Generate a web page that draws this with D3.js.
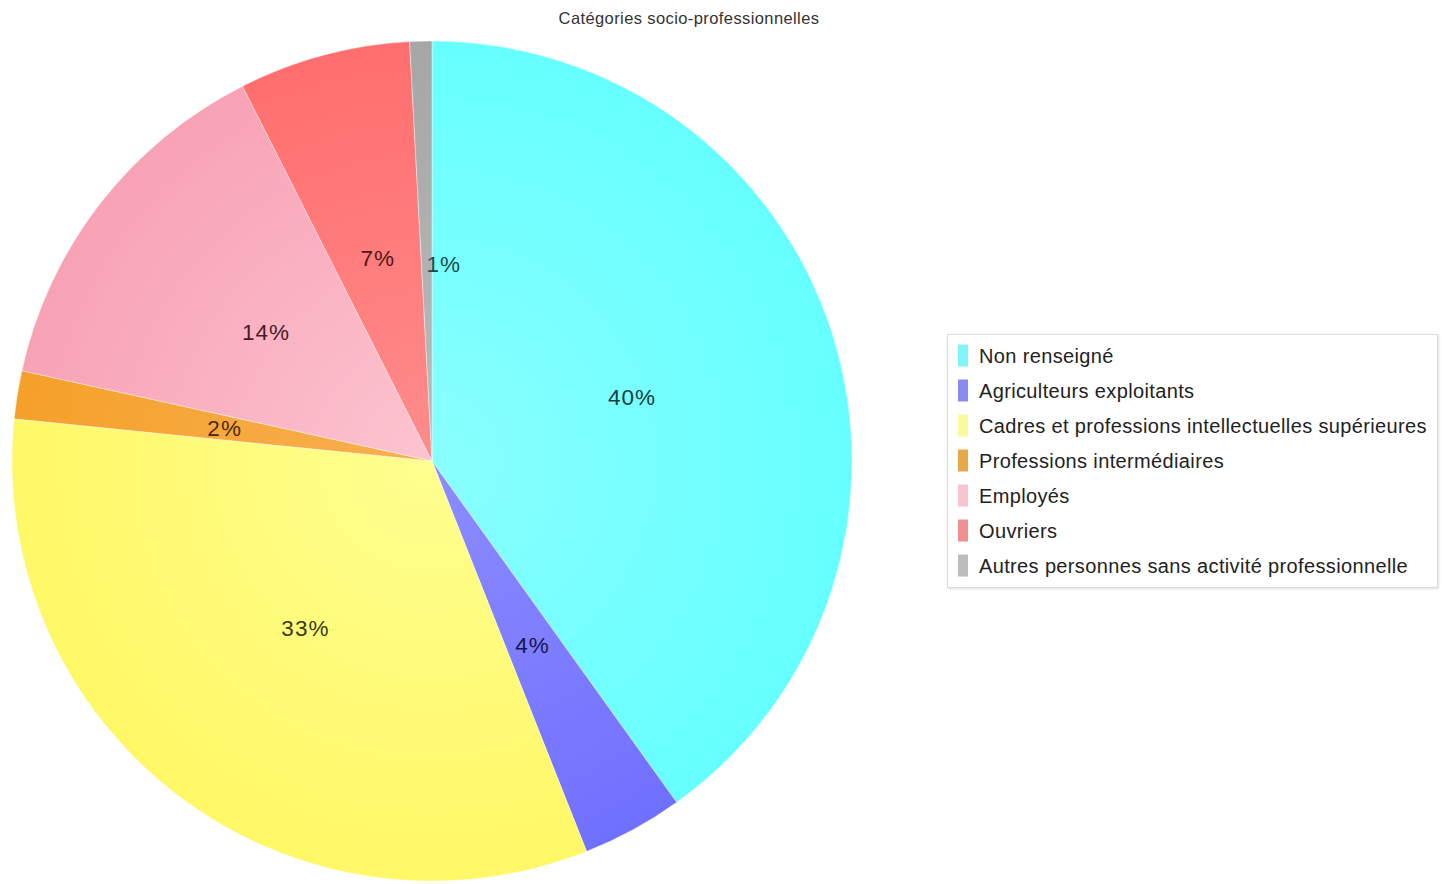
<!DOCTYPE html>
<html><head><meta charset="utf-8">
<script src="https://cdn.jsdelivr.net/npm/d3@7"></script>
<style>body{margin:0;background:#fff;}svg{display:block;}</style>
</head><body>
<script>
const title = "Catégories socio-professionnelles";
const categories = ["Non renseigné","Agriculteurs exploitants","Cadres et professions intellectuelles supérieures","Professions intermédiaires","Employés","Ouvriers","Autres personnes sans activité professionnelle"];
const values = [40.1, 3.9, 32.6, 1.85, 14.1, 6.6, 0.85];
const pctLabels = ["40%","4%","33%","2%","14%","7%","1%"];
const edgeColors = ["#66ffff","#7070ff","#fff866","#f5a02a","#f8a2b6","#ff6e6e","#a6a6a6"];
const centerColors = ["#8affff","#8c8cff","#ffff90","#f8b050","#fcc4d0","#ff8c8c","#bbbbbb"];
const legendColors = ["#80f5f5","#8a8af0","#fafaa0","#e8a848","#f8c4d2","#f09090","#bdbdbd"];
const labelColors = ["#173c40","#16164a","#3c3a18","#4a2a0c","#4a1a2a","#4e1616","#1c4a4e"];

const W = 1442, H = 884;
const svg = d3.select("body").append("svg").attr("width", W).attr("height", H);
const cx = 432, cy = 461, R = 420;

svg.append("text").attr("x", 689).attr("y", 24).attr("text-anchor","middle")
  .attr("font-family","Liberation Sans, Arial, sans-serif").attr("font-size",16.5).attr("letter-spacing",0.4).attr("fill","#333")
  .text(title);

const defs = svg.append("defs");
categories.forEach((c,i)=>{
  const g = defs.append("radialGradient").attr("id","g"+i).attr("gradientUnits","userSpaceOnUse")
    .attr("cx",0).attr("cy",0).attr("r",R);
  g.append("stop").attr("offset","0%").attr("stop-color",centerColors[i]);
  g.append("stop").attr("offset","100%").attr("stop-color",edgeColors[i]);
});

const data = categories.map((c,i)=>({name:c, value:values[i], label:pctLabels[i], i}));
const pie = d3.pie().value(d=>d.value).sort(null);
const arcs = pie(data);
const arc = d3.arc().innerRadius(0).outerRadius(R);
const labelArc = d3.arc().innerRadius(R*0.5).outerRadius(R*0.5);

const g = svg.append("g").attr("transform",`translate(${cx},${cy})`);
g.selectAll("path").data(arcs).join("path")
  .attr("d", arc)
  .attr("fill", d=>`url(#g${d.data.i})`)
  .attr("stroke","rgba(255,255,255,0.5)").attr("stroke-width",0.8);

g.selectAll("text.lbl").data(arcs).join("text").attr("class","lbl")
  .attr("transform", d=>{ const [x,y]=labelArc.centroid(d); return `translate(${x},${y + (d.data.value<1.5?13:0)})`; })
  .attr("text-anchor", d=> d.data.value<1.5 ? "start" : "middle")
  .attr("dy","0.35em")
  .attr("font-family","Liberation Sans, Arial, sans-serif").attr("font-size",22.5).attr("letter-spacing",1)
  .attr("fill", d=>labelColors[d.data.i])
  .text(d=>d.data.label);

// Legend
const lx = 947, ly = 334, lw = 490, lh = 253;
const leg = svg.append("g");
leg.append("rect").attr("x",lx+0.5).attr("y",ly+0.5).attr("width",lw).attr("height",lh)
  .attr("fill","#fff").attr("stroke","#dcdcdc").attr("stroke-width",1)
  .style("filter","drop-shadow(1px 1px 1px rgba(0,0,0,0.12))");
const rowY = d3.scaleBand().domain(d3.range(categories.length)).range([ly+4, ly+4+35*categories.length]);
categories.forEach((c,i)=>{
  const y = rowY(i) + 17.5;
  leg.append("rect").attr("x",958).attr("y",y-11).attr("width",10).attr("height",22).attr("fill",legendColors[i]);
  leg.append("text").attr("x",979).attr("y",y).attr("dy","0.35em")
    .attr("font-family","Liberation Sans, Arial, sans-serif").attr("font-size",20).attr("letter-spacing",0.36).attr("fill","#222")
    .text(c);
});
</script>
</body></html>
